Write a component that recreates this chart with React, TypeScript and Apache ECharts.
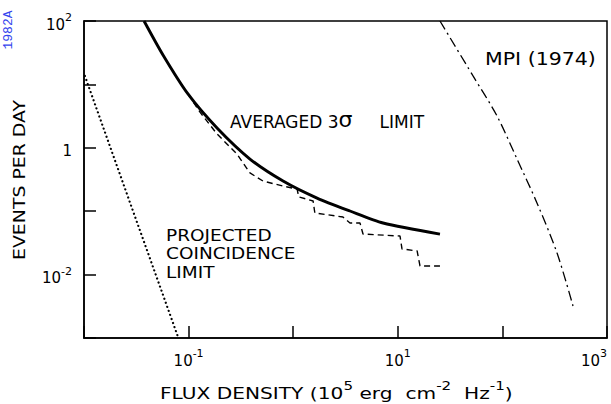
import React, { useEffect, useRef } from "react";
import * as echarts from "echarts";

// Averaged 3-sigma limit (solid)
const averagedX = [0.0375, 0.0569, 0.0986, 0.187, 0.386, 0.8, 1.69, 3.49, 7.23, 25.3];
const averagedY = [100, 29.1, 7.06, 2.05, 0.665, 0.299, 0.161, 0.1007, 0.0652, 0.0436];

// Individual-run limit (dashed, stepped)
const stepX = [0.0986, 0.1285, 0.187, 0.29, 0.386, 0.514, 0.8, 1.09, 1.13, 1.55, 1.61, 2.99, 3.49, 4.35, 4.65, 10.5, 10.97, 15.3, 16.3, 25.3];
const stepY = [7.06, 3.65, 1.65, 0.798, 0.401, 0.299, 0.249, 0.224, 0.168, 0.145, 0.094, 0.081, 0.0652, 0.0652, 0.0436, 0.0406, 0.0254, 0.0236, 0.0137, 0.0137];

// Projected coincidence limit (dotted)
const coincX = [0.0102, 0.0294, 0.0792];
const coincY = [13.6, 0.1007, 0.00104];

// MPI (1974) (dash-dot)
const mpiX = [25.3, 52.4, 88.8, 138, 214, 333, 473];
const mpiY = [100, 13.6, 3.18, 0.665, 0.135, 0.0219, 0.0032];

const xLabelExponents = [-1, 1, 3];
const yLabelExponents = [2, 0, -2];

const FONT = "DejaVu Sans";

const zip = (xs: number[], ys: number[]) => xs.map((x, i) => [x, ys[i]]);

const expLabel = (v: number, shown: number[]) => {
  const e = Math.round(Math.log10(v));
  if (!shown.includes(e)) return "";
  if (e === 0) return "{b|1}";
  return `{b|10}{s|${e}}`;
};

const richLabel = {
  b: { fontSize: 15, fontFamily: FONT, color: "#000", verticalAlign: "bottom", lineHeight: 22 },
  s: { fontSize: 11, fontFamily: FONT, color: "#000", verticalAlign: "bottom", lineHeight: 22, padding: [0, 0, 9, 0] },
};

export default function App() {
  const ref = useRef<HTMLDivElement>(null);
  useEffect(() => {
    if (!ref.current) return;
    const chart = echarts.init(ref.current, null, { renderer: "svg" });
    chart.setOption({
      animation: false,
      backgroundColor: "#fff",
      grid: { left: 84, right: 4, top: 21, bottom: 66, show: true, borderColor: "#000", borderWidth: 1.5 },
      xAxis: {
        type: "log",
        logBase: 10,
        min: 0.01,
        max: 1000,
        axisLine: { show: true, lineStyle: { color: "#000", width: 1.5 } },
        axisTick: { show: true, inside: true, length: 12, lineStyle: { color: "#000", width: 1.5 } },
        splitLine: { show: false },
        axisLabel: {
          margin: 8,
          showMaxLabel: true,
          alignMaxLabel: "right",
          formatter: (v: number) => expLabel(v, xLabelExponents),
          rich: richLabel,
        },
      },
      yAxis: {
        type: "log",
        logBase: 10,
        min: 0.001,
        max: 100,
        axisLine: { show: true, lineStyle: { color: "#000", width: 1.5 } },
        axisTick: { show: true, inside: true, length: 12, lineStyle: { color: "#000", width: 1.5 } },
        splitLine: { show: false },
        axisLabel: {
          margin: 12,
          showMaxLabel: true,
          formatter: (v: number) => expLabel(v, yLabelExponents),
          rich: richLabel,
        },
      },
      series: [
        {
          type: "line",
          data: zip(averagedX, averagedY),
          showSymbol: false,
          smooth: 0.25,
          lineStyle: { color: "#000", width: 2.9 },
        },
        {
          type: "line",
          data: zip(stepX, stepY),
          showSymbol: false,
          lineStyle: { color: "#000", width: 1.4, type: [6, 4] },
        },
        {
          type: "line",
          data: zip(coincX, coincY),
          showSymbol: false,
          lineStyle: { color: "#000", width: 2.2, type: [0.1, 4.2], cap: "round" },
        },
        {
          type: "line",
          data: zip(mpiX, mpiY),
          showSymbol: false,
          smooth: 0.3,
          lineStyle: { color: "#000", width: 1.3, type: [10, 4, 2, 4] },
        },
      ],
      graphic: [
        {
          type: "text",
          left: 230,
          top: 108,
          style: {
            text: "{a|AVERAGED 3}{g|σ}{a|     LIMIT}",
            rich: {
              a: { fontSize: 17, fontFamily: FONT, fill: "#000", verticalAlign: "bottom", lineHeight: 22 },
              g: { fontSize: 22, fontFamily: FONT, fill: "#000", verticalAlign: "bottom", lineHeight: 22 },
            },
          },
        },
        {
          type: "text",
          x: 485,
          y: 50,
          scaleX: 1.14,
          style: { text: "MPI (1974)", font: `18px '${FONT}'`, fill: "#000" },
        },
        {
          type: "text",
          x: 166,
          y: 226,
          scaleX: 1.17,
          style: { text: "PROJECTED\nCOINCIDENCE\nLIMIT", font: `15.8px '${FONT}'`, lineHeight: 18.5, fill: "#000" },
        },
        {
          type: "text",
          x: 160,
          y: 379,
          scaleX: 1.26,
          style: {
            text: "{a|FLUX DENSITY (10}{s|5}{a| erg  cm}{s|-2}{a|  Hz}{s|-1}{a|)}",
            rich: {
              a: { fontSize: 16, fontFamily: FONT, fill: "#000", verticalAlign: "bottom", lineHeight: 22 },
              s: { fontSize: 12, fontFamily: FONT, fill: "#000", verticalAlign: "bottom", lineHeight: 22, padding: [0, 0, 9, 0] },
            },
          },
        },
        {
          type: "text",
          x: 20,
          y: 180,
          rotation: Math.PI / 2,
          scaleX: 1.18,
          style: {
            text: "EVENTS PER DAY",
            font: `16px '${FONT}'`,
            fill: "#000",
            textAlign: "center",
            textVerticalAlign: "middle",
            align: "center",
            verticalAlign: "middle",
          },
        },
        {
          type: "text",
          x: 8,
          y: 30,
          rotation: Math.PI / 2,
          style: {
            text: "1982A",
            font: "13px 'Liberation Mono'",
            fill: "#3344ee",
            textAlign: "center",
            textVerticalAlign: "middle",
            align: "center",
            verticalAlign: "middle",
          },
        },
      ],
    });
    return () => chart.dispose();
  }, []);
  return <div ref={ref} style={{ width: 611, height: 404, position: "absolute", left: 0, top: 0 }} />;
}
